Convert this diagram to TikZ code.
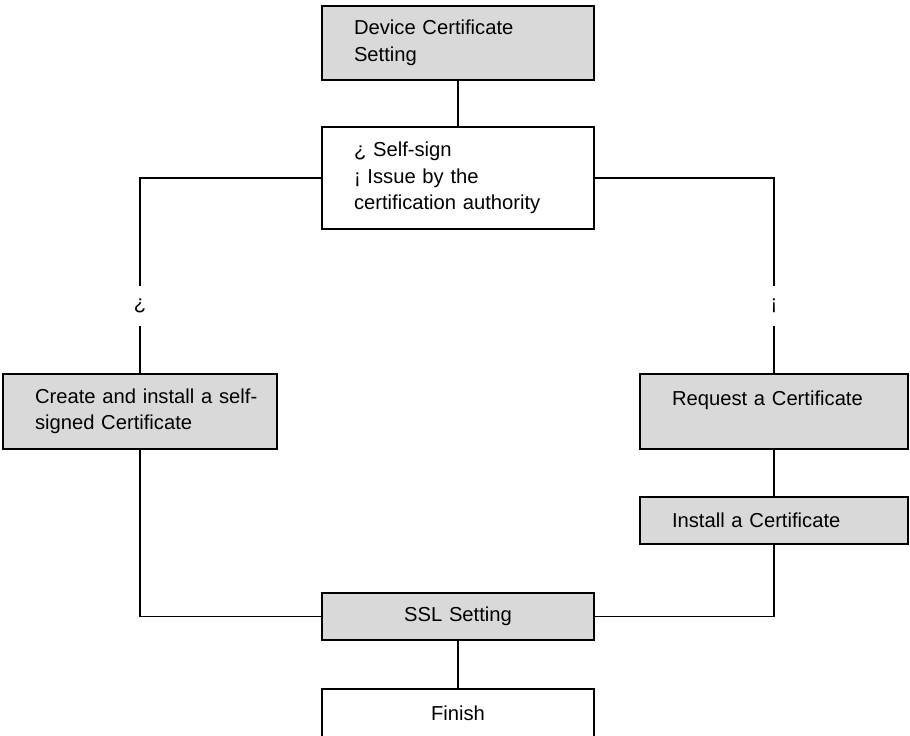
\documentclass[tikz,border=0pt]{standalone}
\usepackage{fontspec}
\setmainfont{Liberation Sans}
\definecolor{boxgray}{HTML}{D9D9D9}
\tikzset{
  box/.style={draw, line width=1.9pt, anchor=north west, outer sep=0pt,
    inner xsep=32pt, inner ysep=0pt, align=left,
    font=\fontsize{20.2}{26.5}\selectfont},
  grey/.style={box, fill=boxgray},
  conn/.style={line width=1.9pt},
  gaplabel/.style={inner sep=0pt, minimum height=40pt, font=\fontsize{20.2}{26.5}\selectfont}
}
\begin{document}
\begin{tikzpicture}[x=1pt, y=-1pt]
\useasboundingbox (0,0) rectangle (910,736);
\node[grey, minimum width=272pt, minimum height=74pt, text width=208pt] (dcs) at (322,6) {Device Certificate\\Setting};
\node[box, minimum width=272pt, minimum height=102pt, text width=208pt] (sel) at (322,127) {¿ Self-sign\\¡ Issue by the\\certification authority};
\node[grey, minimum width=274pt, minimum height=75pt, text width=210pt] (left) at (3,374) {\mbox{Create and install a self-}\\signed Certificate};
\node[grey, minimum width=268pt, minimum height=75pt, text width=204pt] (req) at (640,374) {Request a Certificate\\ \mbox{}};
\node[grey, minimum width=268pt, minimum height=47pt, text width=204pt] (inst) at (640,497) {Install a Certificate};
\node[grey, align=center, minimum width=272pt, minimum height=47pt, text width=208pt] (ssl) at (322,593) {SSL Setting};
\node[box, align=center, minimum width=272pt, minimum height=48pt, text width=208pt] (fin) at (322,689) {Finish};
\node[gaplabel] (lq) at (140,306) {¿};
\node[gaplabel] (rq) at (774,306) {¡};
\draw[conn] (dcs.south) -- (sel.north);
\draw[conn] (sel.west) -| (lq.north);
\draw[conn] (lq.south) -- (left.north);
\draw[conn] (sel.east) -| (rq.north);
\draw[conn] (rq.south) -- (req.north);
\draw[conn] (req.south) -- (inst.north);
\draw[conn] (left.south) |- (ssl.west);
\draw[conn] (inst.south) |- (ssl.east);
\draw[conn] (ssl.south) -- (fin.north);
\end{tikzpicture}
\end{document}
